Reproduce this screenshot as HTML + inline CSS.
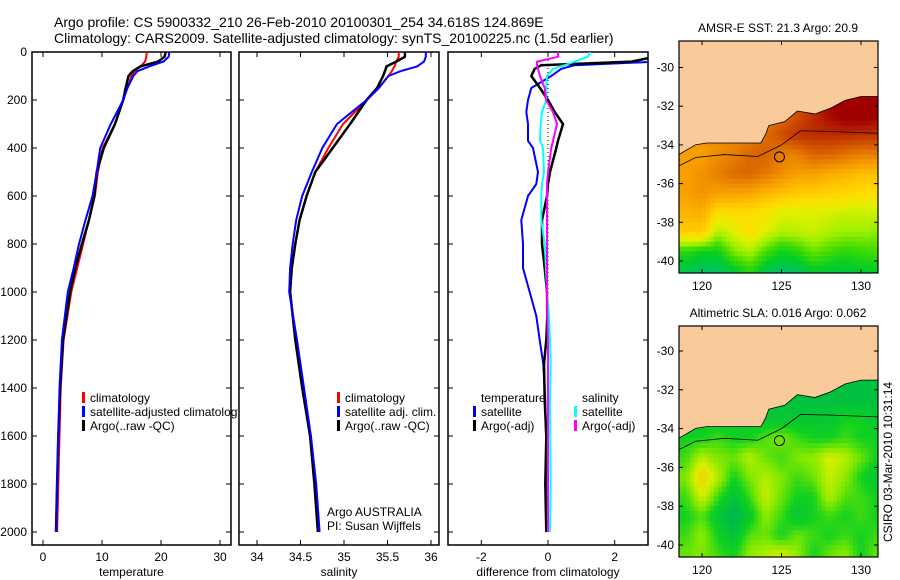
<!DOCTYPE html>
<html><head><meta charset="utf-8"><style>
html,body{margin:0;padding:0;background:#fff;}
svg{display:block;font-family:"Liberation Sans",Arial,sans-serif;}
</style></head><body>
<svg id="fig" width="900" height="580" viewBox="0 0 900 580" xmlns="http://www.w3.org/2000/svg">
<defs>
<clipPath id="c1"><rect x="32" y="52" width="199" height="493"/></clipPath>
<clipPath id="c2"><rect x="239" y="52" width="200" height="493"/></clipPath>
<clipPath id="c3"><rect x="448" y="52" width="200" height="493"/></clipPath>
<clipPath id="cl1"><rect x="0" y="380" width="238" height="60"/></clipPath>
<clipPath id="cm1"><rect x="679" y="41" width="199" height="232"/></clipPath>
<clipPath id="cm2"><rect x="679" y="326" width="199" height="231"/></clipPath>
</defs>
<text x="54" y="27" font-size="14">Argo profile: CS 5900332_210 26-Feb-2010 20100301_254 34.618S 124.869E</text>
<text x="54" y="43" font-size="14">Climatology: CARS2009. Satellite-adjusted climatology: synTS_20100225.nc (1.5d earlier)</text>
<g id="g"></g>
</svg>
<script>
// ---- profile data ----
const depths = [0,20,40,60,80,100,150,200,300,400,500,600,700,800,900,1000,1200,1400,1600,1800,2000];
const tempClim = [17.6,17.5,17.3,16.5,15.5,15.0,14.3,13.6,12.2,10.1,9.3,8.8,7.8,6.8,5.8,4.8,3.5,3.0,2.8,2.6,2.4];
const tempSat  = [21.4,21.3,20.4,18.0,16.0,15.3,14.3,13.6,11.5,9.7,9.1,8.4,7.2,6.1,5.2,4.2,3.2,2.8,2.6,2.4,2.2];
const tempArgo = [20.8,20.6,19.5,16.5,15.2,14.5,14.0,13.6,12.2,10.3,9.1,8.7,7.8,6.6,5.5,4.6,3.4,2.9,2.6,2.4,2.2];
const salClim = [35.63,35.63,35.60,35.58,35.55,35.51,35.40,35.26,34.99,34.82,34.67,34.57,34.49,34.44,34.40,34.38,34.45,34.53,34.62,34.67,34.71];
const salSat  = [35.94,35.94,35.92,35.84,35.65,35.51,35.40,35.26,34.92,34.75,34.63,34.52,34.45,34.41,34.38,34.37,34.46,34.54,34.62,34.68,34.72];
const salArgo = [35.70,35.70,35.60,35.49,35.47,35.45,35.38,35.26,35.07,34.87,34.67,34.57,34.49,34.44,34.40,34.38,34.44,34.52,34.61,34.66,34.70];
const diffDepths = [0,20,40,55,70,100,150,200,250,300,370,400,500,550,600,700,800,900,1000,1100,1200,1300,1450,1600,1800,2000];
const dTempSat  = [3.8,3.8,3.3,0.8,0.4,0.1,-0.5,-0.6,-0.65,-0.6,-0.6,-0.45,-0.3,-0.35,-0.6,-0.8,-0.75,-0.75,-0.55,-0.35,-0.25,-0.14,-0.08,-0.06,-0.04,-0.03];
const dTempArgo = [3.2,3.2,2.5,-0.2,-0.4,-0.5,-0.24,0.0,0.2,0.45,0.3,0.25,0.06,0.0,-0.03,-0.18,-0.18,-0.1,-0.03,-0.02,-0.05,-0.12,-0.1,-0.05,-0.08,-0.05];
const dSalSat   = [1.26,1.2,0.8,0.5,0.15,-0.03,-0.05,-0.05,-0.18,-0.22,-0.24,-0.15,-0.12,-0.18,-0.2,-0.2,-0.1,-0.06,-0.03,0.03,0.06,0.08,0.06,0.07,0.08,0.06];
const dSalArgo  = [0.3,0.3,-0.33,-0.33,-0.3,-0.24,-0.1,-0.06,0.15,0.27,0.15,0.1,0.0,-0.03,-0.03,-0.03,-0.03,-0.03,-0.03,-0.02,0.0,0.0,0.0,0.0,0.0,0.0];
const depthTicks = [0,200,400,600,800,1000,1200,1400,1600,1800,2000];
const tempTicks = [0,10,20,30];
const salTicks = [34,34.5,35,35.5,36];
const diffTicks = [-2,0,2];
// ---- map data ----
const mapLons = [119,120,121,122,123,124,125,126,127,128,129,130,131];
const mapLats = [-31.5,-32.5,-33.5,-34.5,-35.5,-36.5,-37.5,-38.5,-39.5,-40.5];
const sstGrid = [
 [21,21,21,21,21,21,21.5,22,22.5,23,23.5,23.5,23],
 [21,21,21,21,21,21,21.3,21.8,22.3,22.8,23.2,23.3,23],
 [20.8,20.8,20.8,20.9,21,21.3,21.8,22.2,22.3,22.3,22.3,22.2,22.2],
 [20.5,20.5,20.8,21,21.4,21.5,21,21,21.4,21.4,21.2,21,21],
 [20.5,20.7,21,21.3,21.4,21.1,20.8,20.5,20.5,20.3,20.2,20,20],
 [20.5,20.7,20.5,20.5,20.4,20.2,20,19.8,19.8,19.7,19.6,19.5,19.5],
 [20.2,20.3,19.5,19.5,19.5,19.3,19.0,19.0,19.0,18.9,18.8,18.8,18.8],
 [19.8,19.8,18.6,19.0,19.5,19.0,18.6,18.7,18.8,18.6,18.5,18.5,18.4],
 [17.8,17.6,17.6,18.3,18.6,18.0,17.6,17.8,18.2,18.0,17.8,17.9,18.0],
 [17.3,17.2,17.2,17.4,17.8,17.3,17.2,17.2,17.5,17.4,17.4,17.5,17.5]];
const slaGrid = [
 [-0.03,-0.03,-0.03,-0.03,-0.03,-0.03,-0.05,-0.05,-0.05,-0.05,-0.05,-0.05,-0.05],
 [-0.03,-0.03,-0.03,-0.03,-0.03,-0.03,-0.05,-0.05,-0.05,-0.05,-0.05,-0.05,-0.05],
 [-0.02,-0.02,-0.02,-0.02,-0.02,-0.03,-0.03,-0.03,-0.03,-0.03,0,0,-0.03],
 [0,0,0.02,0,0,0.03,0.05,0.02,0,0,0.02,0,0],
 [0.02,0.08,0.05,0.04,0.08,0.04,0.02,0.05,0.06,0.1,0.08,0.04,0],
 [0.05,0.15,0.08,0,0.05,0.08,0.05,0.02,0.04,0.09,0.06,0,-0.03],
 [0.02,0.1,0.02,-0.04,0.02,0.09,0.04,0,0,0.08,0.03,0.02,0],
 [0,0.03,-0.03,-0.08,-0.02,0.06,0.02,-0.03,0,0.02,0,0.02,0],
 [0.02,0.06,0,-0.04,0.03,0.04,0,0.04,0.02,0,0.02,0,0.02],
 [0.04,0.05,0.02,0,0.06,0.08,0.1,0.06,0,0.04,0.06,0,0.04]];
const coastLon = [118.5,119.6,120.3,121.8,123.7,124.0,124.2,125.2,126.0,127.1,128.1,129.0,130.0,131.2];
const coastLat = [-34.52,-33.99,-33.9,-33.9,-33.9,-33.45,-33.0,-32.8,-32.25,-32.4,-32.1,-31.7,-31.5,-31.5];
const shelfLon = [118.5,119.6,121.4,123.5,125.0,126.2,127.9,131.2];
const shelfLat = [-35.1,-34.65,-34.5,-34.6,-34.0,-33.27,-33.3,-33.4];
const argoLon = 124.869, argoLat = -34.618;
const mapLonTicks = [120,125,130];
const mapLatTicks = [-30,-32,-34,-36,-38,-40];

const NS="http://www.w3.org/2000/svg";
const G=document.getElementById('g');
function mk(tag,attrs,parent){const e=document.createElementNS(NS,tag);for(const k in attrs)e.setAttribute(k,attrs[k]);(parent||G).appendChild(e);return e;}
function txt(s,x,y,anchor,size,parent){const t=mk('text',{x:x,y:y,'text-anchor':anchor||'start','font-size':size||12},parent);t.textContent=s;return t;}

const yD = d => 52 + d*0.24;
const P1={x0:32,x1:231,v0:-1.86,v1:31.86};
const P2={x0:239,x1:439,v0:33.793,v1:36.092};
const P3={x0:448,x1:648,v0:-3.0,v1:3.0};
const sx=(P,v)=>P.x0+(v-P.v0)/(P.v1-P.v0)*(P.x1-P.x0);

function panel(P,name,ticks,label,yl){
  const fr=mk('rect',{x:P.x0,y:52,width:P.x1-P.x0,height:493,fill:'none',stroke:'#000','stroke-width':1.5});
  
  
  ticks.forEach(v=>{const x=sx(P,v);
    mk('line',{x1:x,x2:x,y1:545,y2:540,stroke:'#000'});mk('line',{x1:x,x2:x,y1:52,y2:57,stroke:'#000'});
    const t=txt(String(v),x,561,'middle',12);
    
    });
  depthTicks.forEach(d=>{const y=yD(d);
    mk('line',{x1:P.x0,x2:P.x0+5,y1:y,y2:y,stroke:'#000'});mk('line',{x1:P.x1,x2:P.x1-5,y1:y,y2:y,stroke:'#000'});
    if(yl){const t=txt(String(d),27,y+4,'end',12);
      
      }});
  const t=txt(label,(P.x0+P.x1)/2,576,'middle',12);
  
  
}
panel(P1,'temperature-panel',tempTicks,'temperature',true);
panel(P2,'salinity-panel',salTicks,'salinity',false);
panel(P3,'difference-panel',diffTicks,'difference from climatology',false);

function line(P,clip,ds,vals,color,name,w){
  const pts=ds.map((d,i)=>sx(P,vals[i]).toFixed(1)+','+yD(d).toFixed(1)).join(' ');
  const l=mk('polyline',{points:pts,fill:'none',stroke:color,'stroke-width':w||2,'clip-path':'url(#'+clip+')','stroke-linejoin':'round'});
  
  
}
line(P1,'c1',depths,tempClim,'#f00','temp-climatology-line');
line(P1,'c1',depths,tempArgo,'#000','temp-argo-line',2.5);
line(P1,'c1',depths,tempSat,'#00f','temp-satellite-line');
line(P2,'c2',depths,salClim,'#f00','sal-climatology-line');
line(P2,'c2',depths,salArgo,'#000','sal-argo-line',2.5);
line(P2,'c2',depths,salSat,'#00f','sal-satellite-line');
const zl=mk('line',{x1:sx(P3,0),x2:sx(P3,0),y1:yD(0),y2:yD(2000),stroke:'#000','stroke-dasharray':'1,3'});


line(P3,'c3',diffDepths,dTempSat,'#00f','diff-temp-satellite-line');
line(P3,'c3',diffDepths,dTempArgo,'#000','diff-temp-argo-line',2.5);
line(P3,'c3',diffDepths,dSalSat,'#0ff','diff-sal-satellite-line');
line(P3,'c3',diffDepths,dSalArgo,'#f0f','diff-sal-argo-line');

function legend(x,y,color,label,name,clip){
  const gg=mk('g',clip?{'clip-path':'url(#'+clip+')'}:{});
  
  
  if(color) mk('rect',{x:x-8,y:y-10,width:3,height:11,fill:color},gg);
  txt(label,x,y,'start',12,gg);
}
legend(90,402,'#f00','climatology','legend-temp-climatology','cl1');
legend(90,416,'#00f','satellite-adjusted climatology','legend-temp-satellite','cl1');
legend(90,430,'#000','Argo(..raw -QC)','legend-temp-argo','cl1');
legend(345,402,'#f00','climatology','legend-sal-climatology');
legend(345,416,'#00f','satellite adj. clim.','legend-sal-satellite');
legend(345,430,'#000','Argo(..raw -QC)','legend-sal-argo');
legend(327,516,null,'Argo AUSTRALIA','argo-australia-label');
legend(327,530,null,'PI: Susan Wijffels','pi-label');
legend(481,402,null,'temperature','legend-diff-temp-heading');
legend(481,416,'#00f','satellite','legend-diff-temp-satellite');
legend(481,430,'#000','Argo(-adj)','legend-diff-temp-argo');
legend(582,402,null,'salinity','legend-diff-sal-heading');
legend(582,416,'#0ff','satellite','legend-diff-sal-satellite');
legend(582,430,'#f0f','Argo(-adj)','legend-diff-sal-argo');

// ---- maps ----
function lerpColor(stops,v){
  if(v<=stops[0][0])return 'rgb('+stops[0][1].join(',')+')';
  for(let i=1;i<stops.length;i++){if(v<=stops[i][0]){const a=stops[i-1],b=stops[i],t=(v-a[0])/(b[0]-a[0]);
    return 'rgb('+[0,1,2].map(k=>Math.round(a[1][k]+(b[1][k]-a[1][k])*t)).join(',')+')';}}
  return 'rgb('+stops[stops.length-1][1].join(',')+')';
}
const sstStops=[[17,[0,190,130]],[17.5,[0,204,40]],[18,[70,220,0]],[18.5,[160,240,0]],[19,[225,240,0]],[19.5,[255,220,0]],[20,[255,192,0]],[20.5,[248,160,0]],[21,[232,128,0]],[21.5,[216,96,0]],[22,[200,64,0]],[22.5,[180,32,0]],[23,[160,0,0]]];
const slaStops=[[-0.1,[0,168,96]],[-0.05,[0,192,64]],[0,[16,208,32]],[0.05,[128,232,0]],[0.1,[216,240,0]],[0.15,[240,208,0]]];

function sample(grid,r,c){
  const R=grid.length,C=grid[0].length;
  r=Math.max(0,Math.min(R-1,r));c=Math.max(0,Math.min(C-1,c));
  const r0=Math.floor(r),c0=Math.floor(c),r1=Math.min(R-1,r0+1),c1=Math.min(C-1,c0+1),fr=r-r0,fc=c-c0;
  return grid[r0][c0]*(1-fr)*(1-fc)+grid[r0][c1]*(1-fr)*fc+grid[r1][c0]*fr*(1-fc)+grid[r1][c1]*fr*fc;
}

function map(top,bot,lat30y,grid,stops,title,name,clip){
  const L0=118.55,L1=131.07,x0=679,x1=878;
  const mx=lon=>x0+(lon-L0)/(L1-L0)*(x1-x0);
  const pxPerDeg=(bot===273)?19.35:19.4;
  const my=lat=>lat30y+(-30-lat)*pxPerDeg;
  const gg=mk('g',{'clip-path':'url(#'+clip+')'});
  
  
  const S=4, step=1/S;
  mapLats.forEach((lat,r)=>mapLons.forEach((lon,c)=>{
    for(let i=0;i<S;i++)for(let j=0;j<S;j++){
      const la=lat+0.5-(i+0.5)*step, lo=lon-0.5+(j+0.5)*step;
      const v=sample(grid,r+(lat-la),c+(lo-lon));
      const cell=mk('rect',{x:mx(lo-step/2),y:my(la+step/2),width:mx(lo+step/2)-mx(lo-step/2)+0.5,height:my(la-step/2)-my(la+step/2)+0.5,fill:lerpColor(stops,v)},gg);
      
      
    }
  }));
  const landPts=coastLon.map((lo,i)=>mx(lo)+','+my(coastLat[i])).join(' ')+' '+mx(131.5)+','+(top-5)+' '+mx(118)+','+(top-5);
  const land=mk('polygon',{points:landPts,fill:'#f9ca9a',stroke:'#000','stroke-width':0.8},gg);
  
  
  const sh=mk('polyline',{points:shelfLon.map((lo,i)=>mx(lo)+','+my(shelfLat[i])).join(' '),fill:'none',stroke:'#000','stroke-width':0.8},gg);
  
  
  const ci=mk('circle',{cx:mx(argoLon),cy:my(argoLat),r:5,fill:'none',stroke:'#000','stroke-width':1});
  
  
  const fr=mk('rect',{x:x0,y:top,width:x1-x0,height:bot-top,fill:'none',stroke:'#000','stroke-width':1.2});
  
  
  mapLonTicks.forEach(lo=>{const x=mx(lo);mk('line',{x1:x,x2:x,y1:bot,y2:bot-4,stroke:'#000'});mk('line',{x1:x,x2:x,y1:top,y2:top+4,stroke:'#000'});
    const t=txt(String(lo),x,bot+17,'middle',12);
    
    });
  mapLatTicks.forEach(la=>{const y=my(la);mk('line',{x1:x0,x2:x0+4,y1:y,y2:y,stroke:'#000'});mk('line',{x1:x1,x2:x1-4,y1:y,y2:y,stroke:'#000'});
    const t=txt(String(la),674,y+4,'end',12);
    
    });
  const tt=txt(title,778,top-9,'middle',12);
  
  
}
map(41,273,67.5,sstGrid,sstStops,'AMSR-E SST: 21.3 Argo: 20.9','sst-map','cm1');
map(326,557,351,slaGrid,slaStops,'Altimetric SLA: 0.016 Argo: 0.062','sla-map','cm2');
const cs=txt('CSIRO 03-Mar-2010 10:31:14',0,0,'middle',12);
cs.setAttribute('transform','translate(892,462) rotate(-90)');


</script>
</body></html>
